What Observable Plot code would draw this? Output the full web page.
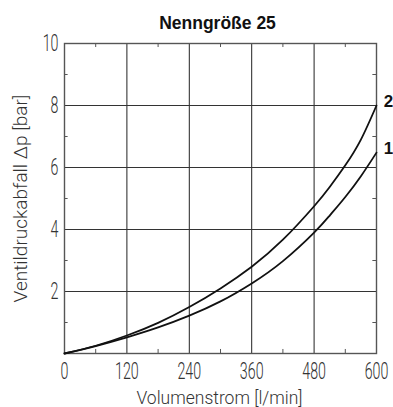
<!DOCTYPE html>
<html><head><meta charset="utf-8">
<script src="https://cdn.jsdelivr.net/npm/d3@7"></script>
<script src="https://cdn.jsdelivr.net/npm/@observablehq/plot@0.6"></script>
<style>body{margin:0;background:#fff}</style>
</head><body><div id="chart"></div>
<script>
const flow = [0, 60, 120, 180, 240, 300, 360, 420, 480, 510, 540, 570, 600];
const dp1 = [0, 0.24, 0.52, 0.84, 1.22, 1.68, 2.26, 2.98, 3.9, 4.45, 5.05, 5.72, 6.48];
const dp2 = [0, 0.25, 0.58, 0.99, 1.5, 2.1, 2.8, 3.67, 4.75, 5.37, 6.07, 6.9, 8.0];
const curveNames = ["1", "2"];
const xTicks = [0, 120, 240, 360, 480, 600];
const yTicks = [2, 4, 6, 8, 10];
const xMinor = [60, 180, 300, 420, 540];
const yMinor = [1, 3, 5, 7, 9];
const title = "Nenngröße 25";
const xLabel = "Volumenstrom [l/min]";
const yLabel = "Ventildruckabfall Δp [bar]";

const series = [dp1, dp2];
const rows = series.flatMap((s, k) => flow.map((q, i) => ({q, dp: s[i], c: curveNames[k]})));
const ends = series.map((s, k) => ({q: flow[flow.length - 1], dp: s[s.length - 1], c: curveNames[k]}));

const tickFont = {fontFamily: "Roboto, sans-serif", fontWeight: 300, fontSize: 23, fill: "#333"};

const chart = Plot.plot({
  width: 393, height: 407,
  marginLeft: 64, marginRight: 17, marginTop: 43, marginBottom: 54,
  x: {domain: [0, 600]},
  y: {domain: [0, 10]},
  style: {fontFamily: "Roboto, sans-serif", background: "#fff", color: "#222"},
  marks: [
    Plot.gridX(xTicks, {stroke: "#222", strokeOpacity: 1, strokeWidth: 1}),
    Plot.gridY(yTicks, {stroke: "#333", strokeOpacity: 1, strokeWidth: 1}),
    Plot.ruleX(xMinor, {y1: 0, y2: 0.13, stroke: "#555"}),
    Plot.ruleX(xMinor, {y1: 9.87, y2: 10, stroke: "#555"}),
    Plot.ruleY(yMinor, {x1: 0, x2: 7, stroke: "#555"}),
    Plot.ruleY(yMinor, {x1: 593, x2: 600, stroke: "#555"}),
    Plot.frame({stroke: "#555", strokeWidth: 1.4}),
    Plot.line(rows, {x: "q", y: "dp", z: "c", curve: "natural", stroke: "#111", strokeWidth: 1.8}),
    Plot.text(ends, {x: "q", y: "dp", text: "c", dx: 12, dy: -4, fontWeight: "bold", fontSize: 17, fontFamily: "Liberation Sans, Arial, sans-serif", fill: "#111"}),
    Plot.axisX(xTicks, {tickSize: 0, tickPadding: 9, label: null, ...tickFont}),
    Plot.axisY(yTicks, {tickSize: 0, tickPadding: 6, label: null, ...tickFont}),
    Plot.text([title], {frameAnchor: "top", dx: -3, dy: -15, lineAnchor: "bottom", fontWeight: "bold", fontSize: 17.5, fontFamily: "Liberation Sans, Arial, sans-serif", fill: "#111"}),
    Plot.text([xLabel], {frameAnchor: "bottom", dx: -1, dy: 50, lineAnchor: "bottom", fontSize: 17.5, fontWeight: 300, fontFamily: "Roboto, sans-serif", fill: "#333"}),
    Plot.text([yLabel], {frameAnchor: "left", textAnchor: "middle", dx: -44, rotate: -90, fontSize: 19, fontWeight: 300, fontFamily: "Roboto, sans-serif", fill: "#333"})
  ]
});
document.getElementById("chart").appendChild(chart);
chart.querySelectorAll('g[aria-label="x-axis tick label"] text, g[aria-label="y-axis tick label"] text').forEach(t => {
  const tr = t.getAttribute("transform") || "";
  t.setAttribute("transform", tr + " scale(0.62,1)");
});
</script>
</body></html>
